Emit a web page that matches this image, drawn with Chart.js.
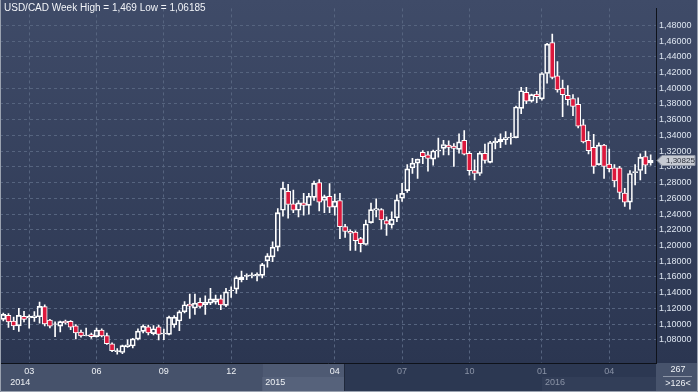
<!DOCTYPE html>
<html lang="en">
<head>
<meta charset="UTF-8">
<title>USD/CAD Week</title>
<script src="https://cdn.jsdelivr.net/npm/chart.js"></script>
<style>
  html, body { margin: 0; padding: 0; background: #2f3a52; }
  #wrap { position: relative; width: 698px; height: 392px; }
</style>
</head>
<body>
<div id="wrap"><canvas id="grafico" width="698" height="392"></canvas></div>
<script>
// Semanas (USD/CAD, candles semanais)
const opens = [1.1061,1.1111,1.1040,1.0978,1.1098,1.1078,1.1082,1.1094,1.1222,1.1053,
  1.0995,1.0974,1.1040,1.1036,1.0978,1.0900,1.0854,1.0867,1.0842,1.0924,
  1.0854,1.0751,1.0651,1.0639,1.0713,1.0722,1.0809,1.0908,1.0966,1.0879,
  1.0966,1.0875,1.0871,1.0990,1.1040,1.1156,1.1255,1.1205,1.1276,1.1247,
  1.1268,1.1280,1.1321,1.1238,1.1425,1.1446,1.1566,1.1607,1.1615,1.1616,
  1.1620,1.1806,1.1856,1.1980,1.2448,1.2688,1.2531,1.2448,1.2543,1.2510,
  1.2613,1.2800,1.2572,1.2626,1.2489,1.2572,1.2241,1.2179,1.2171,1.2088,
  1.2013,1.2291,1.2448,1.2456,1.2316,1.2262,1.2353,1.2601,1.2697,1.2986,
  1.3048,1.3185,1.3152,1.3098,1.3202,1.3235,1.3276,1.3264,1.3222,1.3338,
  1.3173,1.2953,1.2916,1.3173,1.3057,1.3306,1.3318,1.3347,1.3368,1.3372,
  1.3744,1.3947,1.3835,1.3926,1.3864,1.4187,1.4580,1.4158,1.4001,1.3910,
  1.3869,1.3794,1.3533,1.3339,1.3247,1.3028,1.3277,1.3036,1.2987,1.2987,
  1.2668,1.2552,1.2925,1.2954,1.3132,1.3049];
const highs = [1.1140,1.1135,1.1090,1.1202,1.1164,1.1119,1.1160,1.1280,1.1247,1.1061,
  1.1028,1.1040,1.1053,1.1044,1.0995,1.0924,1.0949,1.0887,1.0949,1.0941,
  1.0887,1.0763,1.0688,1.0734,1.0800,1.0821,1.0941,1.0991,1.0987,1.0982,
  1.0987,1.0937,1.1102,1.1110,1.1172,1.1288,1.1383,1.1383,1.1330,1.1359,
  1.1454,1.1371,1.1371,1.1454,1.1475,1.1612,1.1674,1.1640,1.1653,1.1653,
  1.1773,1.1897,1.2046,1.2469,1.2808,1.2779,1.2704,1.2572,1.2663,1.2663,
  1.2820,1.2837,1.2642,1.2787,1.2655,1.2663,1.2270,1.2200,1.2187,1.2104,
  1.2324,1.2539,1.2593,1.2469,1.2365,1.2427,1.2643,1.2792,1.3028,1.3110,
  1.3098,1.3206,1.3193,1.3214,1.3367,1.3338,1.3330,1.3297,1.3421,1.3462,
  1.3193,1.3090,1.3193,1.3289,1.3326,1.3368,1.3421,1.3450,1.3430,1.3773,
  1.4010,1.4010,1.3926,1.3960,1.4200,1.4572,1.4690,1.4340,1.4104,1.4034,
  1.3918,1.3877,1.3600,1.3450,1.3413,1.3306,1.3285,1.3227,1.3028,1.3007,
  1.2726,1.2954,1.3028,1.3165,1.3202,1.3152];
const lows = [1.1040,1.0958,1.0929,1.0908,1.1028,1.0949,1.1036,1.1011,1.0978,1.0953,
  1.0842,1.0900,1.0999,1.0929,1.0813,1.0833,1.0850,1.0817,1.0833,1.0838,
  1.0742,1.0651,1.06185,1.0626,1.0705,1.0697,1.0800,1.0887,1.0862,1.0862,
  1.0800,1.0804,1.0862,1.0960,1.0916,1.1143,1.1073,1.1123,1.1205,1.1123,
  1.1247,1.1255,1.1185,1.1222,1.1340,1.1392,1.1537,1.1566,1.1587,1.1550,
  1.1587,1.1723,1.1794,1.1930,1.2373,1.2348,1.2419,1.2365,1.2386,1.2398,
  1.2572,1.2440,1.2419,1.2419,1.2386,1.2088,1.2104,1.1939,1.1939,1.1918,
  1.2005,1.2283,1.2365,1.2208,1.2129,1.2220,1.2303,1.2560,1.2676,1.2916,
  1.2854,1.3040,1.2945,1.3020,1.3123,1.3152,1.3152,1.3007,1.3173,1.3152,
  1.2895,1.2833,1.2891,1.3048,1.3049,1.3227,1.3243,1.3285,1.3289,1.3368,
  1.3678,1.3802,1.3823,1.3815,1.3848,1.4063,1.4117,1.3951,1.3637,1.3786,
  1.3650,1.3496,1.3306,1.3165,1.2916,1.3020,1.2854,1.2937,1.2746,1.2593,
  1.2498,1.2461,1.2771,1.2833,1.2912,1.3020];
const closes = [1.1125,1.1028,1.0978,1.1111,1.1061,1.1098,1.1107,1.1227,1.1003,1.0974,
  1.1003,1.1032,1.1015,1.0962,1.0887,1.0850,1.0862,1.0842,1.0924,1.0850,
  1.0751,1.0664,1.0664,1.0726,1.0738,1.0813,1.0912,1.0974,1.0887,1.0941,
  1.0871,1.0887,1.1089,1.1089,1.1156,1.1247,1.1230,1.1268,1.1226,1.1276,
  1.1321,1.1321,1.1243,1.1410,1.1433,1.1591,1.1599,1.1620,1.1628,1.1632,
  1.1756,1.1868,1.1980,1.2419,1.2729,1.2522,1.2448,1.2543,1.2510,1.2626,
  1.2791,1.2551,1.2622,1.2489,1.2564,1.2241,1.2179,1.2158,1.2063,1.2022,
  1.2274,1.2456,1.2469,1.2324,1.2270,1.2332,1.2580,1.2663,1.2974,1.3048,
  1.3098,1.3131,1.3106,1.3202,1.3214,1.3284,1.3247,1.3235,1.3318,1.3160,
  1.2953,1.2916,1.3173,1.3082,1.3310,1.3326,1.3351,1.3372,1.3380,1.3761,
  1.3968,1.3835,1.3918,1.3893,1.4187,1.4560,1.4138,1.3980,1.3918,1.3856,
  1.3769,1.3517,1.3318,1.3206,1.3007,1.3277,1.3007,1.2978,1.2820,1.2676,
  1.2552,1.2916,1.2941,1.3120,1.3020,1.30825];

// Eixo X: posição (semana) e rótulo dos meses
const tickPos = [5, 18, 31, 44, 64, 77, 90, 104, 117];
const tickLabels = ['03', '06', '09', '12', '04', '07', '10', '01', '04'];
const yearLabels = ['2014', '2015', '2016'];
const yearPos = [0, 50, 104];
// Eixo Y
const yTicks = [1.08, 1.10, 1.12, 1.14, 1.16, 1.18, 1.20, 1.22, 1.24, 1.26, 1.28,
  1.30, 1.32, 1.34, 1.36, 1.38, 1.40, 1.42, 1.44, 1.46, 1.48];
const titulo = 'USD/CAD Week High = 1,469 Low = 1,06185';
const totalBarras = '267';
const barrasVisiveis = '>126<';

const VERMELHO = '#dc183c';
const fmt = v => v.toFixed(5).replace('.', ',');

const corpo = opens.map((o, i) => ({ x: i, y: [Math.min(o, closes[i]), Math.max(o, closes[i])] }));
const pavioCima = opens.map((o, i) => ({ x: i, y: [Math.max(o, closes[i]), highs[i]] }));
const pavioBaixo = opens.map((o, i) => ({ x: i, y: [lows[i], Math.min(o, closes[i])] }));
const corCorpo = opens.map((o, i) => closes[i] < o ? VERMELHO : 'rgba(0,0,0,0)');

// fundo, painel de baixo, título e etiqueta do último preço
const fundo = {
  id: 'fundo',
  beforeDraw(chart) {
    const { ctx, chartArea: a, scales: { x } } = chart;
    const W = chart.width, H = chart.height;
    const g = ctx.createLinearGradient(0, 0, 0, a.bottom);
    g.addColorStop(0, '#3f4b68');
    g.addColorStop(1, '#2b3651');
    ctx.save();
    ctx.fillStyle = g;
    ctx.fillRect(0, 0, W, a.bottom);
    // painel do tempo
    const xa = x.getPixelForValue(50), xb = x.getPixelForValue(65.8), xc = x.getPixelForValue(104);
    const meio = a.bottom + 14;
    ctx.fillStyle = '#46526b'; ctx.fillRect(0, a.bottom, xa, H - a.bottom);
    ctx.fillStyle = '#4e5a73'; ctx.fillRect(xa, a.bottom, xb - xa, H - a.bottom);
    ctx.fillStyle = '#56627b'; ctx.fillRect(xa, meio, xb - xa, H - meio);
    ctx.fillStyle = '#2c3852'; ctx.fillRect(xb, a.bottom, a.right - xb, H - a.bottom);
    ctx.fillStyle = '#323e58'; ctx.fillRect(xc, meio, a.right - xc, H - meio);
    ctx.fillStyle = '#1f283b'; ctx.fillRect(Math.round(xb), a.bottom, 1, H - a.bottom);
    ctx.fillStyle = '#47536c'; ctx.fillRect(a.right, a.bottom, W - a.right, H - a.bottom);
    ctx.restore();
  },
  afterDraw(chart) {
    const { ctx, chartArea: a, scales: { x, y } } = chart;
    const W = chart.width, H = chart.height;
    ctx.save();
    ctx.textBaseline = 'middle';
    ctx.textAlign = 'left';
    ctx.fillStyle = '#f2f4f8';
    ctx.font = '10px "Liberation Sans", Arial, sans-serif';
    ctx.fillText(titulo, 4, 8);
    ctx.font = '9px "Liberation Sans", Arial, sans-serif';
    // anos
    yearLabels.forEach((t, i) => {
      ctx.fillStyle = i < 2 ? '#eef1f5' : '#8a93a6';
      ctx.fillText(t, x.getPixelForValue(yearPos[i]) + (i === 0 ? 7 : 3), a.bottom + 20);
    });
    // contador de barras
    ctx.textAlign = 'center';
    ctx.fillStyle = '#eef1f5';
    ctx.fillText(totalBarras, (a.right + W) / 2 + 1, a.bottom + 7);
    ctx.fillText(barrasVisiveis, (a.right + W) / 2 + 1, a.bottom + 21);
    ctx.fillStyle = '#8e97a8';
    ctx.fillRect(a.right + 7, a.bottom + 13, 29, 1);
    // etiqueta do último fechamento
    const yv = Math.round(y.getPixelForValue(closes[closes.length - 1])) + 0.5;
    ctx.beginPath();
    ctx.moveTo(a.right + 1, yv);
    ctx.lineTo(a.right + 6, yv - 5);
    ctx.lineTo(W - 3, yv - 5);
    ctx.lineTo(W - 3, yv + 5);
    ctx.lineTo(a.right + 6, yv + 5);
    ctx.closePath();
    ctx.fillStyle = '#c6cad2';
    ctx.fill();
    ctx.strokeStyle = '#8d94a2';
    ctx.lineWidth = 1;
    ctx.stroke();
    ctx.textAlign = 'left';
    ctx.fillStyle = '#2a2f3a';
    ctx.font = '8px "Liberation Sans", Arial, sans-serif';
    ctx.fillText(fmt(closes[closes.length - 1]), a.right + 10, yv + 0.5);
    // moldura (esquerda, baixo, direita)
    ctx.strokeStyle = '#9aa2b0';
    ctx.beginPath();
    ctx.moveTo(0.5, 0);
    ctx.lineTo(0.5, H - 0.5);
    ctx.lineTo(W - 0.5, H - 0.5);
    ctx.lineTo(W - 0.5, 0);
    ctx.stroke();
    ctx.restore();
  }
};

const ctx = document.getElementById('grafico').getContext('2d');
const chart = new Chart(ctx, {
  type: 'bar',
  data: {
    datasets: [
      { data: corpo, backgroundColor: corCorpo, borderColor: '#ffffff', borderWidth: 1,
        borderSkipped: false, barThickness: 5, grouped: false },
      { data: pavioCima, backgroundColor: '#ffffff', barThickness: 1, grouped: false },
      { data: pavioBaixo, backgroundColor: '#ffffff', barThickness: 1, grouped: false }
    ]
  },
  options: {
    responsive: false,
    animation: false,
    layout: { padding: 0, autoPadding: false },
    plugins: { legend: { display: false }, tooltip: { enabled: false }, title: { display: false } },
    scales: {
      x: {
        type: 'linear',
        offset: false,
        min: -0.637,
        max: 126.03,
        afterBuildTicks: s => { s.ticks = tickPos.map(v => ({ value: v })); },
        afterFit: s => { s.height = 29; },
        grid: { color: '#56647f', offset: false, drawTicks: false },
        border: { display: true, color: '#0e121a', width: 1, dash: [3, 3] },
        ticks: {
          padding: 3,
          maxRotation: 0,
          autoSkip: false,
          font: { family: '"Liberation Sans", Arial, sans-serif', size: 9 },
          color: c => c.index >= 5 ? '#8a93a6' : '#eef1f5',
          callback: (v, i) => tickLabels[i]
        }
      },
      y: {
        position: 'right',
        min: 1.0506,
        max: 1.5015,
        afterBuildTicks: s => { s.ticks = yTicks.map(v => ({ value: v })); },
        afterFit: s => { s.width = 42; },
        grid: { color: '#56647f', drawTicks: false },
        border: { display: true, color: '#0e121a', width: 1, dash: [3, 3] },
        ticks: {
          padding: 3,
          font: { family: '"Liberation Sans", Arial, sans-serif', size: 9 },
          color: '#dde5f0',
          callback: v => fmt(v)
        }
      }
    }
  },
  plugins: [fundo]
});
</script>
</body>
</html>
